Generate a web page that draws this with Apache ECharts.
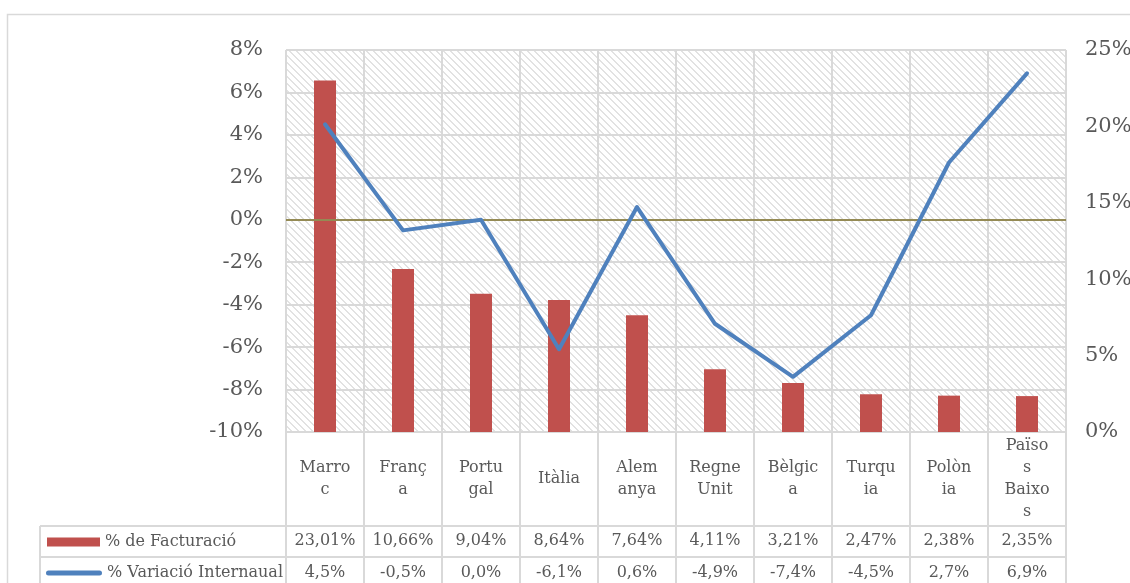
<!DOCTYPE html>
<html><head><meta charset="utf-8">
<script src="https://cdn.jsdelivr.net/npm/echarts@6/dist/echarts.min.js"></script>
<style>html,body{margin:0;padding:0;background:#fff}#c{width:1130px;height:583px}</style>
</head><body><div id="c"></div>
<script>
const categories = ['Marroc', 'França', 'Portugal', 'Itàlia', 'Alemanya', 'Regne Unit', 'Bèlgica', 'Turquia', 'Polònia', 'Països Baixos'];
const tickLabels = ['Marro\nc', 'Franç\na', 'Portu\ngal', 'Itàlia', 'Alem\nanya', 'Regne\nUnit', 'Bèlgic\na', 'Turqu\nia', 'Polòn\nia', 'Païso\ns\nBaixo\ns'];
const facturacio = [23.01, 10.66, 9.04, 8.64, 7.64, 4.11, 3.21, 2.47, 2.38, 2.35];
const variacio = [4.5, -0.5, 0.0, -6.1, 0.6, -4.9, -7.4, -4.5, 2.7, 6.9];
const seriesNames = ['% de Facturació', '% Variació Internaual'];
const leftAxis = { min: -10, max: 8, interval: 2 };
const rightAxis = { min: 0, max: 25, interval: 5 };

const factLabels = facturacio.map(v => v.toFixed(2).replace('.', ',') + '%');
const varLabels = variacio.map(v => v.toFixed(1).replace('.', ',') + '%');

const FONT = 'DejaVu Serif';
const TXT = '#595959';
const GRIDC = '#d9d9d9';
const GL = 286, GT = 50, GW = 780, GH = 382;
const GB = GT + GH;

const pc = document.createElement('canvas');
pc.width = 7; pc.height = 7;
const ctx = pc.getContext('2d');
ctx.fillStyle = '#ffffff'; ctx.fillRect(0, 0, 7, 7);
ctx.fillStyle = '#e2e2e2';
for (let y = 0; y < 7; y++) for (let x = 0; x < 7; x++) {
  if ((((x - y) % 7) + 7) % 7 < 2) ctx.fillRect(x, y, 1, 1);
}

const chart = echarts.init(document.getElementById('c'), null, { renderer: 'canvas' });

const band = GW / categories.length;
const graphics = [];
graphics.push({ type: 'rect', shape: { x: 7.5, y: 14.5, width: 1200, height: 700 }, style: { fill: 'none', stroke: GRIDC, lineWidth: 1.5 }, silent: true, z: -10 });
for (let i = 0; i <= categories.length; i++) {
  const x = GL + i * band;
  graphics.push({ type: 'line', shape: { x1: x, y1: GB, x2: x, y2: 600 }, style: { stroke: GRIDC, lineWidth: 2 }, silent: true });
}
graphics.push({ type: 'line', shape: { x1: 40, y1: 526, x2: 40, y2: 600 }, style: { stroke: GRIDC, lineWidth: 2 }, silent: true });
[526, 557].forEach(y => graphics.push({ type: 'line', shape: { x1: 40, y1: y, x2: GL + GW, y2: y }, style: { stroke: GRIDC, lineWidth: 2 }, silent: true }));

const rowAxis = (data, offset) => ({
  type: 'category', data: data, position: 'bottom', offset: offset,
  axisLine: { show: false }, axisTick: { show: false }, splitLine: { show: false },
  axisLabel: { interval: 0, margin: 0, verticalAlign: 'middle', fontFamily: FONT, fontSize: 16, color: TXT }
});

// line legend icon: 5px rounded stroke inside an 11px-high box
const lineIcon = 'path://M0,0 L0,0 Z M0,11 L0,11 Z M2.5,3 L53.5,3 A2.5,2.5 0 0 1 53.5,8 L2.5,8 A2.5,2.5 0 0 1 2.5,3 Z';
const legendText = { fontFamily: FONT, fontSize: 16, color: TXT };

chart.setOption({
  animation: false,
  backgroundColor: '#fff',
  textStyle: { fontFamily: FONT },
  grid: { left: GL, top: GT, width: GW, height: GH, show: true, borderWidth: 0, backgroundColor: { image: pc, repeat: 'repeat' },
    containLabel: false, outerBoundsMode: 'none' },
  legend: [
    { orient: 'horizontal', left: 47, top: 534, padding: 0, itemWidth: 53, itemHeight: 9, textStyle: legendText,
      data: [{ name: seriesNames[0], icon: 'rect' }] },
    { orient: 'horizontal', left: 46, top: 565, padding: 0, itemWidth: 56, itemHeight: 11, textStyle: legendText,
      data: [{ name: seriesNames[1], icon: lineIcon, itemStyle: { color: '#4f81bd', borderWidth: 0 } }] }
  ],
  xAxis: [
    {
      type: 'category', data: categories, position: 'bottom',
      axisLine: { show: false }, axisTick: { show: false },
      splitLine: { show: true, interval: 0, lineStyle: { color: GRIDC, width: 2 } },
      axisLabel: { interval: 0, margin: 47, verticalAlign: 'middle', lineHeight: 22, fontFamily: FONT, fontSize: 16, color: TXT,
        formatter: (v, i) => tickLabels[i] }
    },
    rowAxis(factLabels, 109),
    rowAxis(varLabels, 141)
  ],
  yAxis: [
    {
      type: 'value', position: 'left', min: leftAxis.min, max: leftAxis.max, interval: leftAxis.interval,
      axisLine: { show: false }, axisTick: { show: false },
      splitLine: { show: true, lineStyle: { color: GRIDC, width: 2 } },
      axisLabel: { formatter: '{value}%', margin: 23, fontFamily: FONT, fontSize: 21, color: TXT }
    },
    {
      type: 'value', position: 'right', min: rightAxis.min, max: rightAxis.max, interval: rightAxis.interval,
      axisLine: { show: false }, axisTick: { show: false }, splitLine: { show: false },
      axisLabel: { formatter: '{value}%', margin: 19, fontFamily: FONT, fontSize: 21, color: TXT }
    }
  ],
  series: [
    {
      name: seriesNames[0], type: 'bar', xAxisIndex: 0, yAxisIndex: 1, data: facturacio,
      barWidth: 22, itemStyle: { color: '#c0504d' }, z: 2
    },
    {
      name: seriesNames[1], type: 'line', xAxisIndex: 0, yAxisIndex: 0, data: variacio,
      showSymbol: false, symbol: 'none', color: '#4f81bd',
      lineStyle: { color: '#4f81bd', width: 4, cap: 'round', join: 'round' }, z: 4,
      markLine: { silent: true, symbol: ['none', 'none'], label: { show: false },
        lineStyle: { color: '#948a54', width: 2, type: 'solid' }, data: [{ yAxis: 0 }], z: 3 }
    }
  ],
  graphic: graphics
});
</script></body></html>
